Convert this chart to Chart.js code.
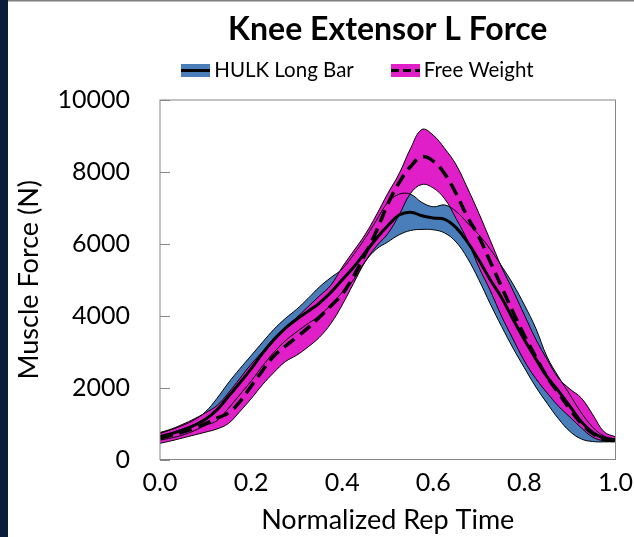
<!DOCTYPE html>
<html><head><meta charset="utf-8">
<script src="https://cdn.jsdelivr.net/npm/chart.js@4.4.1/dist/chart.umd.min.js"></script>
<style>html,body{margin:0;padding:0;background:#fff;}canvas{display:block;}</style>
</head><body>
<canvas id="c" width="634" height="537"></canvas>
<script>
// Normalized rep time (x positions of the sampled curve points)
const repTime = [0,0.025,0.05,0.075,0.1,0.125,0.15,0.175,0.2,0.225,0.25,0.275,0.3,0.325,0.35,0.375,0.4,0.425,0.45,0.475,0.5,0.525,0.55,0.575,0.6,0.625,0.65,0.675,0.7,0.725,0.75,0.775,0.8,0.825,0.85,0.875,0.9,0.925,0.95,0.975,1.0];

// HULK Long Bar: mean and band limits (N)
const hulkMean  = [640,720,820,950,1120,1380,1750,2130,2520,2950,3330,3650,3900,4120,4350,4650,5000,5350,5750,6150,6500,6800,6880,6780,6720,6680,6450,6050,5550,5000,4500,3900,3330,2800,2300,1900,1480,1050,750,590,540];
const hulkUpper = [730,830,950,1100,1330,1700,2130,2520,2890,3260,3620,3920,4180,4480,4800,5060,5300,5700,6150,6650,7150,7380,7380,7150,7030,7080,6900,6580,6250,5850,5380,4880,4300,3650,2850,2300,1800,1300,900,650,570];
const hulkLower = [540,600,680,800,950,1080,1420,1800,2180,2600,2980,3300,3550,3780,4000,4300,4650,5000,5500,5850,6050,6250,6370,6400,6390,6300,6050,5600,5000,4330,3700,3100,2550,2020,1560,1130,780,570,500,490,500];

// Free Weight: mean and band limits (N)
const freeMean  = [600,670,760,870,1000,1150,1290,1600,2040,2470,2880,3150,3400,3660,3960,4270,4600,5100,5700,6350,7100,7700,8150,8420,8300,7950,7400,6750,6200,5500,4800,4100,3450,2850,2290,1850,1400,1000,720,560,520];
const freeUpper = [750,850,980,1130,1300,1500,1850,2250,2650,3000,3380,3680,3950,4250,4550,4850,5350,5800,6250,6800,7400,7950,8650,9180,9020,8650,8200,7550,6850,6100,5350,4700,4020,3350,2780,2260,1960,1710,1250,770,630];
const freeLower = [450,520,600,680,760,850,1000,1330,1690,2080,2420,2720,2900,3130,3400,3780,4300,4900,5490,5930,6280,6800,7400,7650,7550,7250,6700,6100,5350,4700,3980,3350,2740,2250,1850,1480,1180,880,620,520,500];

const yTickValues = [0,2000,4000,6000,8000,10000];
const xTickValues = [0,0.2,0.4,0.6,0.8,1.0];
const seriesNames = ['HULK Long Bar','Free Weight'];

const BLUE = '#4a7ebb';
const MAGENTA = '#e11fc8';
const FONT = 'Lato, "Open Sans", sans-serif';
const LEGEND_BOX_W = 44;

const pts = arr => arr.map((v,i)=>({x:repTime[i], y:v}));

function legendSymbol(fill, dashed){
  const c = document.createElement('canvas');
  c.width = 29; c.height = 13;
  const g = c.getContext('2d');
  g.fillStyle = fill; g.fillRect(0,0,29,13);
  g.strokeStyle = '#000'; g.lineWidth = 3;
  if (dashed) g.setLineDash([8,4]);
  g.beginPath(); g.moveTo(0,6.5); g.lineTo(29,6.5); g.stroke();
  return c;
}
const symbols = [legendSymbol(BLUE,false), legendSymbol(MAGENTA,true)];

const framePlugin = {
  id:'frame',
  beforeDraw(chart){
    const ctx = chart.ctx;
    ctx.save();
    ctx.fillStyle = '#fff'; ctx.fillRect(0,0,chart.width,chart.height);
    ctx.fillStyle = '#0b1d3a'; ctx.fillRect(0,0,8,chart.height);
    ctx.fillStyle = '#7f7f7f'; ctx.fillRect(8,0,chart.width-8,1.5);
    ctx.restore();
  },
  afterDraw(chart){
    const ctx = chart.ctx, a = chart.chartArea, ys = chart.scales.y;
    ctx.save();
    ctx.strokeStyle = '#868686'; ctx.lineWidth = 1;
    ctx.strokeRect(a.left, a.top, a.right-a.left, a.bottom-a.top);
    ctx.beginPath();
    yTickValues.forEach(v=>{
      const y = Math.round(ys.getPixelForValue(v))+0.5;
      ctx.moveTo(a.left, y); ctx.lineTo(a.left+10, y);
    });
    ctx.stroke();
    // legend symbols, placed at the legend's own item boxes
    const lg = chart.legend;
    if (lg && lg.legendHitBoxes) {
      lg.legendHitBoxes.forEach((hb,i)=>{
        const textX = hb.left + LEGEND_BOX_W + 10.25;
        const cy = hb.top + hb.height/2;
        ctx.drawImage(symbols[i], Math.round(textX - 33), Math.round(cy - 6.5));
      });
    }
    ctx.restore();
  }
};

const thin = (label, data, fill, bg) => ({
  label, data: pts(data), fill, backgroundColor: bg,
  borderColor:'#000', borderWidth:1, pointRadius:0, tension:0.4
});

new Chart(document.getElementById('c'), {
  type:'line',
  data:{ datasets:[
    { label: seriesNames[1]+' mean', data: pts(freeMean), borderColor:'#000', borderWidth:3.5, borderDash:[13,7], pointRadius:0, fill:false, tension:0.4 },
    { label: seriesNames[0]+' mean', data: pts(hulkMean), borderColor:'#000', borderWidth:3, pointRadius:0, fill:false, tension:0.4 },
    thin(seriesNames[1]+' upper', freeUpper, '+1', MAGENTA),
    thin(seriesNames[1]+' lower', freeLower, false, MAGENTA),
    thin(seriesNames[0]+' upper', hulkUpper, '+1', BLUE),
    thin(seriesNames[0]+' lower', hulkLower, false, BLUE)
  ]},
  options:{
    responsive:false, animation:false, devicePixelRatio:1,
    layout:{ padding:{ left:0, right:0, top:0, bottom:0 } },
    plugins:{
      filler:{ drawTime:'beforeDatasetsDraw' },
      tooltip:{ enabled:false },
      title:{ display:true, fullSize:false, text:'Knee Extensor L Force', color:'#000',
        font:{ family:FONT, size:32, weight:'bold' }, padding:{ top:10.8, bottom:0.8 } },
      legend:{ display:true, position:'top', fullSize:false, align:'start',
        labels:{ usePointStyle:false, boxWidth:LEGEND_BOX_W, boxHeight:40, padding:0, color:'#000',
          font:{ family:FONT, size:20.5 },
          generateLabels(){
            return [
              { text: seriesNames[0]+'   ', fillStyle:'rgba(0,0,0,0)', strokeStyle:'rgba(0,0,0,0)', lineWidth:0, hidden:false, datasetIndex:1 },
              { text: seriesNames[1], fillStyle:'rgba(0,0,0,0)', strokeStyle:'rgba(0,0,0,0)', lineWidth:0, hidden:false, datasetIndex:0 }
            ];
          }
        }
      }
    },
    scales:{
      x:{ type:'linear', min:0, max:1,
        afterFit(s){ s.height = 77.5; s.paddingRight = 18.5; },
        afterBuildTicks(s){ s.ticks = xTickValues.map(v=>({value:v})); },
        grid:{ display:false, drawTicks:false }, border:{ display:false },
        ticks:{ color:'#000', padding:8, font:{ family:FONT, size:25 }, callback:v=>Number(v).toFixed(1), maxRotation:0, autoSkip:false },
        title:{ display:true, text:'Normalized Rep Time', color:'#000', font:{ family:FONT, size:27 }, padding:{ top:0, bottom:1 } }
      },
      y:{ type:'linear', min:0, max:10000,
        afterFit(s){ s.width = 160; },
        afterBuildTicks(s){ s.ticks = yTickValues.map(v=>({value:v})); },
        grid:{ display:false, drawTicks:false }, border:{ display:false },
        ticks:{ color:'#000', padding:30, font:{ family:FONT, size:25 }, callback:v=>String(v) },
        title:{ display:true, text:'Muscle Force (N)', color:'#000', font:{ family:FONT, size:27 }, padding:{ top:13, bottom:0 } }
      }
    }
  },
  plugins:[framePlugin]
});
</script>
</body></html>
